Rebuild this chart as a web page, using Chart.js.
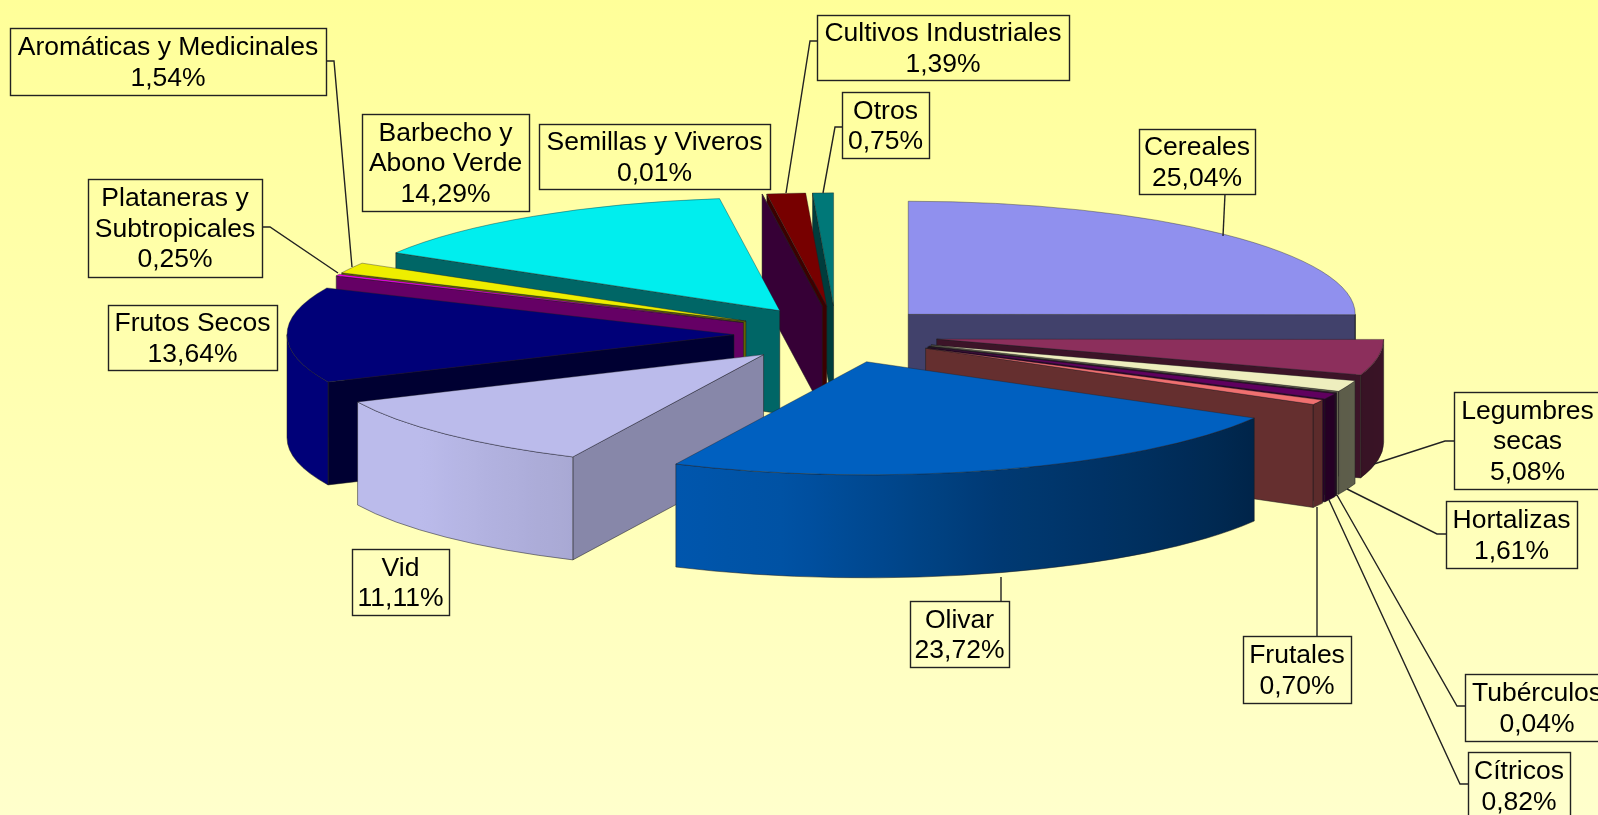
<!DOCTYPE html>
<html>
<head>
<meta charset="utf-8">
<title>Superficie por cultivos</title>
<script src="https://cdn.jsdelivr.net/npm/chart.js@4"></script>
<style>
    html, body { margin: 0; padding: 0; overflow: hidden; }
    body { width: 1598px; height: 815px; background: linear-gradient(#FFFF99, #FFFFCC); }
    canvas { display: block; }
</style>
</head>
<body>
<canvas id="pieChart" width="1598" height="815"></canvas>
<script>
const categories = ['Cereales', 'Legumbres\nsecas', 'Hortalizas', 'Tubérculos', 'Cítricos', 'Frutales', 'Olivar', 'Vid',
    'Frutos Secos', 'Plataneras y\nSubtropicales', 'Aromáticas y Medicinales', 'Barbecho y\nAbono Verde',
    'Semillas y Viveros', 'Cultivos Industriales', 'Otros'];
const shares = [25.04, 5.08, 1.61, 0.04, 0.82, 0.70, 23.72, 11.11, 13.64, 0.25, 1.54, 14.29, 0.01, 1.39, 0.75];
const topColors = ['#9090EE', '#8C2F5C', '#EEEEBE', '#60005F', '#60005F', '#F07070', '#0060C0', '#BBBBEB',
    '#000078', '#F000F0', '#EEEE00', '#00EEEE', '#800080', '#770000', '#007878'];
const faceShades = [0.45, 0.43, 0.43, 0.43, 0.43, 0.42, 0.43, 0.72, 0.42, 0.42, 0.42, 0.43, 0.42, 0.5, 0.5];

// label boxes: [x, y, w, h], leader line points from the box to the slice
const labelBoxes = [
    [1139, 129, 116, 65], [1454, 392, 147, 97], [1446, 501, 131, 67], [1465, 674, 144, 67], [1468, 752, 102, 67],
    [1243, 636, 108, 67], [910, 601, 99, 66], [352, 549, 97, 66], [108, 305, 169, 65], [88, 179, 174, 98],
    [10, 28, 316, 67], [362, 114, 167, 97], [539, 124, 231, 65], [817, 15, 252, 65], [842, 92, 87, 66]
];
const leaders = [
    [[1225, 194], [1223, 236]], [[1454, 441], [1445, 441], [1374, 464]], [[1446, 534], [1437, 534], [1347, 489]],
    [[1465, 706], [1457, 706], [1337, 495]], [[1468, 784], [1460, 784], [1329, 500]], [[1317, 636], [1317, 507]],
    [[1001, 601], [1001, 577]], [], [], [[262, 227], [270, 227], [338, 273]],
    [[326, 61], [334, 61], [352, 267]], [], [], [[817, 41], [810, 41], [786, 193]], [[842, 127], [835, 127], [823, 193]]
];

const tilt = 0.253;        // vertical squash of the pie
const explodeTilt = 0.28;  // front slices sit a little lower in the reference
const depth = 103;         // height of the extrusion
const explode = 102;       // how far each slice is pulled out
const pieRadius = 447;

function shadeColor(hex, f) {
    const n = parseInt(hex.slice(1), 16);
    return `rgb(${Math.round((n >> 16) * f)},${Math.round(((n >> 8) & 255) * f)},${Math.round((n & 255) * f)})`;
}

// brightness of the outer wall by angle (degrees, 0 = right, 90 = front)
const rimStops = [[0, 0.42], [30, 0.38], [73, 0.6], [100, 0.85], [115, 0.9], [140, 1], [180, 1]];
function rimShade(t) {
    const deg = t * 180 / Math.PI;
    for (let i = 1; i < rimStops.length; i++) {
        if (deg <= rimStops[i][0]) {
            const a = rimStops[i - 1], b = rimStops[i];
            return a[1] + (b[1] - a[1]) * (deg - a[0]) / (b[0] - a[0]);
        }
    }
    return 1;
}

function drawSlice(ctx, arc, color, faceShade) {
    const mid = (arc.startAngle + arc.endAngle) / 2;
    const ox = arc.x + Math.cos(mid) * explode;
    const oy = arc.y + Math.sin(mid) * explode * explodeTilt;
    const r = arc.outerRadius;
    const px = t => ox + Math.cos(t) * r;
    const py = t => oy + Math.sin(t) * r * tilt;

    ctx.strokeStyle = 'rgba(30,30,30,0.5)';
    ctx.lineWidth = 1;
    const face = t => {
        ctx.beginPath();
        ctx.moveTo(ox, oy);
        ctx.lineTo(px(t), py(t));
        ctx.lineTo(px(t), py(t) + depth);
        ctx.lineTo(ox, oy + depth);
        ctx.closePath();
        ctx.fillStyle = shadeColor(color, faceShade);
        ctx.fill();
        ctx.stroke();
    };
    if (Math.cos(arc.startAngle) < 0) face(arc.startAngle);
    if (Math.cos(arc.endAngle) > 0) face(arc.endAngle);

    const t1 = Math.max(arc.startAngle, 0);
    const t2 = Math.min(arc.endAngle, Math.PI);
    if (t2 > t1) {
        const grad = ctx.createLinearGradient(px(t1), 0, px(t2) - 0.01, 0);
        for (let i = 0; i <= 24; i++) {
            const t = t1 + (t2 - t1) * i / 24;
            const stop = (px(t) - px(t1)) / (px(t2) - 0.01 - px(t1));
            grad.addColorStop(Math.min(1, Math.max(0, stop)), shadeColor(color, rimShade(t)));
        }
        ctx.beginPath();
        ctx.ellipse(ox, oy, r, r * tilt, 0, t1, t2);
        ctx.ellipse(ox, oy + depth, r, r * tilt, 0, t2, t1, true);
        ctx.closePath();
        ctx.fillStyle = grad;
        ctx.fill();
        ctx.stroke();
    }

    // the top is the chart's own arc, moved out and squashed
    ctx.save();
    ctx.translate(ox, oy);
    ctx.scale(1, tilt);
    ctx.translate(-arc.x, -arc.y);
    arc.draw(ctx);
    ctx.restore();
}

const pie3d = {
    id: 'pie3d',
    beforeDatasetDraw(chart, args) {
        const arcs = chart.getDatasetMeta(args.index).data;
        const order = arcs.map((a, i) => i).sort((i, j) => {
            const mi = (arcs[i].startAngle + arcs[i].endAngle) / 2;
            const mj = (arcs[j].startAngle + arcs[j].endAngle) / 2;
            return Math.sin(mi) - Math.sin(mj);
        });
        order.forEach(i => drawSlice(chart.ctx, arcs[i], topColors[i], faceShades[i]));
        return false;
    },
    afterDatasetsDraw(chart) {
        const ctx = chart.ctx;
        ctx.save();
        ctx.strokeStyle = '#222';
        ctx.fillStyle = '#000';
        ctx.lineWidth = 1.4;
        ctx.font = '26.5px "Liberation Sans", Arial, sans-serif';
        ctx.textAlign = 'center';
        ctx.textBaseline = 'middle';
        categories.forEach((name, i) => {
            const [x, y, w, h] = labelBoxes[i];
            if (leaders[i].length) {
                ctx.beginPath();
                leaders[i].forEach((p, n) => n ? ctx.lineTo(p[0], p[1]) : ctx.moveTo(p[0], p[1]));
                ctx.stroke();
            }
            ctx.strokeRect(x + 0.5, y + 0.5, w, h);
            const lines = name.split('\n').concat(shares[i].toFixed(2).replace('.', ',') + '%');
            const lineH = 30.5;
            const first = y + h / 2 - lineH * (lines.length - 1) / 2 + 1.5;
            lines.forEach((line, n) => ctx.fillText(line, x + w / 2, first + n * lineH));
        });
        ctx.restore();
    }
};

new Chart(document.getElementById('pieChart').getContext('2d'), {
    type: 'pie',
    data: {
        labels: categories,
        datasets: [{
            data: shares,
            backgroundColor: topColors,
            borderColor: 'rgba(30,30,30,0.6)',
            borderWidth: 1,
            radius: pieRadius
        }]
    },
    options: {
        responsive: false,
        animation: false,
        layout: { padding: { left: 74, bottom: 146 } },
        plugins: { legend: { display: false }, tooltip: { enabled: false } }
    },
    plugins: [pie3d]
});
</script>
</body>
</html>
